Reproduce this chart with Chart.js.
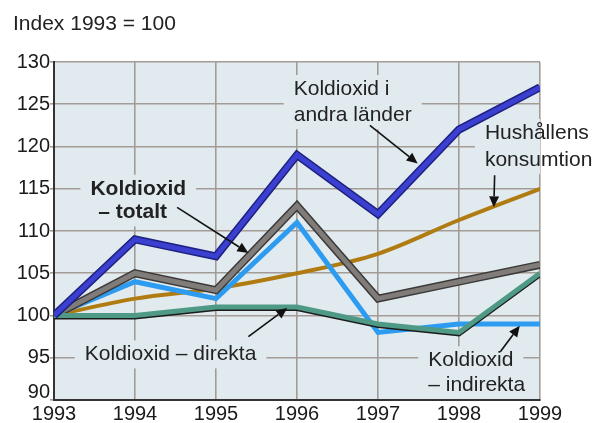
<!DOCTYPE html>
<html>
<head>
<meta charset="utf-8">
<script src="https://cdn.jsdelivr.net/npm/chart.js@4/dist/chart.umd.min.js"></script>
<style>
  body { margin: 0; background: #fff; }
  #wrap { width: 593px; height: 423px; }
</style>
</head>
<body>
<div id="wrap"><canvas id="chart"></canvas></div>
<script>
// === Data ===
const years = [1993, 1994, 1995, 1996, 1997, 1998, 1999];
const andraLander = [100, 109, 107, 119, 112, 122, 127];
const hushallen = [100, 102, 103.2, 105, 107.3, 111.3, 115];
const totalt = [100, 105, 103, 113, 102, 104, 106];
const indirekta = [100, 104, 102, 111, 98, 99, 99];
const direkta = [100, 100, 101, 101, 99, 98, 105];

const FONT = "'Liberation Sans', Arial, sans-serif";
const PLOT_BG = "#e1ebef";

// text notes, placed in data units (year, index)
const notes = [
  { text: "Koldioxid i", x: 1995.96, y: 126.8 },
  { text: "andra länder", x: 1995.96, y: 123.7 },
  { text: "Hushållens", x: 1998.32, y: 121.6 },
  { text: "konsumtion", x: 1998.32, y: 118.4 },
  { text: "Koldioxid", x: 1994.04, y: 115.0, bold: true, center: true },
  { text: "– totalt", x: 1993.97, y: 112.2, bold: true, center: true },
  { text: "Koldioxid – direkta", x: 1993.38, y: 95.4 },
  { text: "Koldioxid", x: 1997.62, y: 94.7 },
  { text: "– indirekta", x: 1997.62, y: 91.8 },
];

// arrows: [fromYear, fromVal, toYear, toVal]
const arrows = [
  [1996.90, 122.5, 1997.49, 118.0],
  [1998.44, 116.6, 1998.43, 112.8],
  [1994.52, 112.8, 1995.40, 107.4],
  [1995.40, 97.5, 1995.88, 100.9],
  [1998.51, 95.7, 1998.75, 98.8],
];

const pts = (vals) => years.map((yr, i) => ({ x: yr, y: vals[i] }));

function line(vals, color, width, extra) {
  return Object.assign({
    data: pts(vals),
    borderColor: color,
    borderWidth: width,
    pointRadius: 0,
    tension: 0,
    borderJoinStyle: "miter",
    borderCapStyle: "butt",
    fill: false,
  }, extra || {});
}

// bottom to top
const drawList = [
  line(hushallen, "#b07c12", 4, { cubicInterpolationMode: "monotone" }),
  line(indirekta, "#2d9cf0", 5),
  line(totalt, "#3c3a39", 8),
  line(totalt, "#807c79", 5),
  line(direkta, "#4f9a86", 5, { shadow: true }),
  line(andraLander, "#1e2180", 8),
  line(andraLander, "#3b40d0", 5),
];
drawList.forEach((d, i) => (d.order = drawList.length - i));

// === Plugins ===
const plotBg = {
  id: "plotBg",
  beforeDraw(chart) {
    const { ctx, chartArea: a } = chart;
    ctx.save();
    ctx.fillStyle = PLOT_BG;
    ctx.fillRect(a.left, a.top, a.right - a.left, a.bottom - a.top);
    ctx.restore();
  },
};

const lineShadow = {
  id: "lineShadow",
  beforeDatasetDraw(chart, args) {
    const ds = chart.data.datasets[args.index];
    if (!ds.shadow) return;
    const ctx = chart.ctx;
    ctx.save();
    ctx.shadowColor = "#1b1b1b";
    ctx.shadowOffsetY = 1.5;
    ctx.shadowBlur = 0;
  },
  afterDatasetDraw(chart, args) {
    if (chart.data.datasets[args.index].shadow) chart.ctx.restore();
  },
};

function noteFont(n) {
  return (n.bold ? "bold " : "") + "21px " + FONT;
}

const annotations = {
  id: "annotations",
  beforeDatasetsDraw(chart) {
    // blank out the grid behind the texts (inside the plot only)
    const { ctx, chartArea: a, scales: { x, y } } = chart;
    ctx.save();
    ctx.beginPath();
    ctx.rect(a.left + 1, a.top, a.right - a.left - 1, a.bottom - a.top - 1);
    ctx.clip();
    ctx.fillStyle = PLOT_BG;
    notes.forEach((n) => {
      ctx.font = noteFont(n);
      const w = ctx.measureText(n.text).width;
      const px = x.getPixelForValue(n.x);
      const py = y.getPixelForValue(n.y);
      const left = n.center ? px - w / 2 : px;
      ctx.fillRect(left - 10, py - 14, w + 20, 28);
    });
    ctx.restore();
  },
  afterDatasetsDraw(chart) {
    const { ctx, scales: { x, y } } = chart;
    ctx.save();
    ctx.fillStyle = "#222";
    ctx.textBaseline = "middle";
    notes.forEach((n) => {
      ctx.font = noteFont(n);
      ctx.textAlign = n.center ? "center" : "left";
      ctx.fillText(n.text, x.getPixelForValue(n.x), y.getPixelForValue(n.y));
    });

    // arrows
    ctx.strokeStyle = "#111";
    ctx.fillStyle = "#111";
    ctx.lineWidth = 1.6;
    arrows.forEach(([x0, y0, x1, y1]) => {
      const ax = x.getPixelForValue(x0), ay = y.getPixelForValue(y0);
      const bx = x.getPixelForValue(x1), by = y.getPixelForValue(y1);
      const ang = Math.atan2(by - ay, bx - ax);
      const len = 11, half = 5;
      const baseX = bx - len * Math.cos(ang), baseY = by - len * Math.sin(ang);
      ctx.beginPath();
      ctx.moveTo(ax, ay);
      ctx.lineTo(baseX, baseY);
      ctx.stroke();
      ctx.beginPath();
      ctx.moveTo(bx, by);
      ctx.lineTo(baseX + half * Math.sin(ang), baseY - half * Math.cos(ang));
      ctx.lineTo(baseX - half * Math.sin(ang), baseY + half * Math.cos(ang));
      ctx.closePath();
      ctx.fill();
    });

    // unit text above the plot
    ctx.font = "21px " + FONT;
    ctx.textAlign = "left";
    ctx.fillStyle = "#222";
    ctx.fillText("Index 1993 = 100", 13, 24);
    ctx.restore();
  },
};

// === Chart ===
new Chart(document.getElementById("chart"), {
  type: "line",
  data: { datasets: drawList },
  options: {
    responsive: true,
    maintainAspectRatio: false,
    animation: false,
    layout: { padding: { top: 62, right: 53, left: 0, bottom: 0 } },
    plugins: { legend: { display: false }, tooltip: { enabled: false } },
    scales: {
      x: {
        type: "linear",
        min: 1993,
        max: 1999,
        afterFit: (s) => { s.height = 23; },
        ticks: {
          stepSize: 1,
          padding: 2,
          color: "#1a1a1a",
          font: { family: FONT, size: 20 },
          callback: (v) => String(v),
        },
        grid: { color: "#a39c96", lineWidth: 1.6, drawTicks: false },
        border: { color: "#333", width: 2 },
      },
      y: {
        min: 90,
        max: 130,
        afterFit: (s) => { s.width = 54; },
        ticks: {
          stepSize: 5,
          padding: 0,
          color: "#1a1a1a",
          font: { family: FONT, size: 20, lineHeight: 0.8 },
          // lift the bottom label clear of the year labels
          callback: (v) => (v === 90 ? ["90", ""] : String(v)),
        },
        grid: { color: "#a39c96", lineWidth: 1.6, tickLength: 4 },
        border: { color: "#333", width: 2 },
      },
    },
  },
  plugins: [plotBg, lineShadow, annotations],
});
</script>
</body>
</html>
